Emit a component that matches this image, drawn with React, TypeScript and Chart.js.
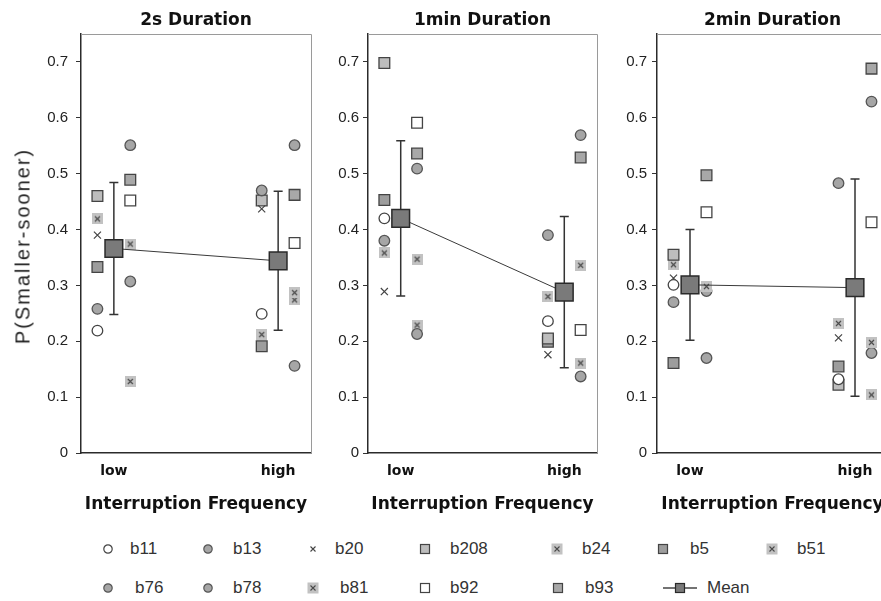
import React, { useEffect, useRef } from 'react';
import { Chart, registerables } from 'chart.js';

Chart.register(...registerables);

// ---------- data ----------
const panelTitles = ['2s Duration', '1min Duration', '2min Duration'];
const xLabels = ['low', 'high'];
const xAxisTitle = 'Interruption Frequency';
const yAxisTitle = 'P(Smaller-sooner)';

// values per series: [2s low, 2s high, 1min low, 1min high, 2min low, 2min high]
const b11 = [0.219, 0.249, 0.42, 0.236, 0.301, 0.132];
const b13 = [0.258, 0.47, 0.38, 0.39, 0.27, 0.483];
const b20 = [0.39, 0.437, 0.289, 0.176, 0.313, 0.206];
const b208 = [0.46, 0.452, 0.698, 0.205, 0.355, 0.122];
const b24 = [0.419, 0.212, 0.358, 0.28, 0.337, 0.232];
const b5 = [0.333, 0.191, 0.453, 0.199, 0.161, 0.155];
const b51 = [0.374, 0.287, 0.347, 0.336, 0.298, 0.198];
const b76 = [0.551, 0.551, 0.509, 0.569, 0.29, 0.629];
const b78 = [0.307, 0.156, 0.213, 0.137, 0.17, 0.179];
const b81 = [0.128, 0.274, 0.229, 0.161, 0.295, 0.104];
const b92 = [0.452, 0.376, 0.591, 0.22, 0.431, 0.413];
const b93 = [0.489, 0.462, 0.536, 0.529, 0.497, 0.688];

const meanValues = [0.366, 0.344, 0.42, 0.288, 0.301, 0.296];
const sdValues = [0.118, 0.1245, 0.139, 0.1355, 0.099, 0.1946];

const seriesNames = ['b11', 'b13', 'b20', 'b208', 'b24', 'b5', 'b51', 'b76', 'b78', 'b81', 'b92', 'b93'];
const seriesValues: Record<string, number[]> = { b11, b13, b20, b208, b24, b5, b51, b76, b78, b81, b92, b93 };
const leftGroup = ['b11', 'b13', 'b20', 'b208', 'b24', 'b5'];

// ---------- styles ----------
type Marker = { kind: string; fill: string; stroke: string };
const markerStyles: Record<string, Marker> = {
  b11: { kind: 'circle', fill: '#ffffff', stroke: '#444444' },
  b13: { kind: 'circle', fill: '#a6a6a6', stroke: '#555555' },
  b20: { kind: 'crossRot', fill: '#444444', stroke: '#444444' },
  b208: { kind: 'rect', fill: '#bdbdbd', stroke: '#444444' },
  b24: { kind: 'xgray', fill: '#c2c2c2', stroke: '#4a4a4a' },
  b5: { kind: 'rect', fill: '#9d9d9d', stroke: '#444444' },
  b51: { kind: 'xgray', fill: '#c2c2c2', stroke: '#4a4a4a' },
  b76: { kind: 'circle', fill: '#a6a6a6', stroke: '#555555' },
  b78: { kind: 'circle', fill: '#a6a6a6', stroke: '#555555' },
  b81: { kind: 'xgray', fill: '#c2c2c2', stroke: '#4a4a4a' },
  b92: { kind: 'rect', fill: '#ffffff', stroke: '#444444' },
  b93: { kind: 'rect', fill: '#a8a8a8', stroke: '#444444' },
};

const panelLayout = [
  { left: 0, width: 320, yWidth: 81, rightPad: 9, tickPad: 8 },
  { left: 320, width: 290, yWidth: 48, rightPad: 13, tickPad: 4 },
  { left: 610, width: 292, yWidth: 47, rightPad: 14, tickPad: 5 },
];
const canvasHeight = 525;

const legendRows = [549, 588];
const legendLayout = [
  { name: 'b11', mx: 108, tx: 130, row: 0 },
  { name: 'b13', mx: 208, tx: 233, row: 0 },
  { name: 'b20', mx: 313, tx: 335, row: 0 },
  { name: 'b208', mx: 425, tx: 450, row: 0 },
  { name: 'b24', mx: 557, tx: 582, row: 0 },
  { name: 'b5', mx: 663, tx: 690, row: 0 },
  { name: 'b51', mx: 772, tx: 797, row: 0 },
  { name: 'b76', mx: 108, tx: 135, row: 1 },
  { name: 'b78', mx: 208, tx: 233, row: 1 },
  { name: 'b81', mx: 313, tx: 340, row: 1 },
  { name: 'b92', mx: 425, tx: 450, row: 1 },
  { name: 'b93', mx: 558, tx: 585, row: 1 },
];

function makeXGray(): HTMLCanvasElement {
  const c = document.createElement('canvas');
  c.width = 11;
  c.height = 11;
  const g = c.getContext('2d')!;
  g.fillStyle = '#c2c2c2';
  g.fillRect(0, 0, 11, 11);
  g.strokeStyle = '#4a4a4a';
  g.lineWidth = 1.2;
  g.beginPath();
  g.moveTo(3, 3);
  g.lineTo(8, 8);
  g.moveTo(8, 3);
  g.lineTo(3, 8);
  g.stroke();
  return c;
}

const errorBarPlugin = {
  id: 'errorBars',
  beforeDatasetsDraw(chart: any, _args: any, opts: any) {
    const { ctx, scales } = chart;
    const x = scales.x;
    const y = scales.y;
    ctx.save();
    ctx.strokeStyle = opts.color || '#333';
    ctx.lineWidth = 1.5;
    (opts.means || []).forEach((m: number, i: number) => {
      const px = x.getPixelForValue(i);
      const top = y.getPixelForValue(m + opts.sds[i]);
      const bot = y.getPixelForValue(m - opts.sds[i]);
      ctx.beginPath();
      ctx.moveTo(px, top);
      ctx.lineTo(px, bot);
      ctx.moveTo(px - 4.5, top);
      ctx.lineTo(px + 4.5, top);
      ctx.moveTo(px - 4.5, bot);
      ctx.lineTo(px + 4.5, bot);
      ctx.stroke();
    });
    ctx.restore();
  },
};

const framePlugin = {
  id: 'panelFrame',
  beforeDatasetsDraw(chart: any) {
    const { ctx, chartArea } = chart;
    const { left, right, top, bottom } = chartArea;
    ctx.save();
    ctx.strokeStyle = '#9a9a9a';
    ctx.lineWidth = 1;
    ctx.beginPath();
    ctx.moveTo(left, top + 0.5);
    ctx.lineTo(right + 0.5, top + 0.5);
    ctx.lineTo(right + 0.5, bottom);
    ctx.stroke();
    ctx.restore();
  },
};

function Panel({ index }: { index: number }) {
  const ref = useRef<HTMLCanvasElement | null>(null);
  const lay = panelLayout[index];
  useEffect(() => {
    if (!ref.current) return;
    const xgray = makeXGray();
    const p = index;
    const datasets: any[] = [
      {
        label: 'Mean',
        data: [
          { x: 0, y: meanValues[2 * p] },
          { x: 1, y: meanValues[2 * p + 1] },
        ],
        showLine: true,
        borderColor: '#3a3a3a',
        borderWidth: 1,
        pointStyle: 'rect',
        pointRadius: 12.5,
        pointHoverRadius: 12.5,
        pointBackgroundColor: '#7a7a7a',
        pointBorderColor: '#2a2a2a',
        pointBorderWidth: 1.5,
      },
    ];
    seriesNames.forEach((name) => {
      const vals = seriesValues[name];
      const off = leftGroup.includes(name) ? -0.1 : 0.1;
      const st = markerStyles[name];
      const radius = st.kind === 'circle' ? 5.3 : st.kind === 'rect' ? 7.6 : 5;
      datasets.push({
        label: name,
        data: [
          { x: off, y: vals[2 * p] },
          { x: 1 + off, y: vals[2 * p + 1] },
        ],
        showLine: false,
        pointStyle: st.kind === 'xgray' ? xgray : st.kind,
        pointRadius: radius,
        pointHoverRadius: radius,
        pointBackgroundColor: st.fill,
        pointBorderColor: st.stroke,
        pointBorderWidth: st.kind === 'crossRot' ? 1.2 : 1.3,
      });
    });

    const boldFont = (size: number) => ({ family: '"DejaVu Sans", sans-serif', size, weight: 'bold' as const });

    const chart = new Chart(ref.current, {
      type: 'scatter',
      data: { datasets },
      plugins: [framePlugin, errorBarPlugin],
      options: {
        responsive: false,
        animation: false,
        events: [],
        layout: { autoPadding: false, padding: { left: 0, right: lay.rightPad, top: 0, bottom: 0 } },
        plugins: {
          legend: { display: false },
          tooltip: { enabled: false },
          title: {
            display: true,
            text: panelTitles[index],
            fullSize: false,
            color: '#111',
            font: boldFont(17),
            padding: { top: 10, bottom: 3.6 },
          },
          errorBars: {
            means: [meanValues[2 * p], meanValues[2 * p + 1]],
            sds: [sdValues[2 * p], sdValues[2 * p + 1]],
            color: '#333',
          },
        } as any,
        scales: {
          x: {
            type: 'linear',
            min: -0.2,
            max: 1.2,
            afterBuildTicks: (s: any) => {
              s.ticks = [{ value: 0 }, { value: 1 }];
            },
            afterFit: (s: any) => {
              s.height = canvasHeight - 453;
              s.paddingLeft = 0;
              s.paddingRight = 0;
            },
            grid: { display: true, drawOnChartArea: false, drawTicks: false },
            border: { color: '#2b2b2b', width: 1.5 },
            ticks: {
              padding: 10,
              color: '#111',
              font: boldFont(14),
              callback: (_v: any, i: number) => xLabels[i],
            },
            title: {
              display: true,
              text: xAxisTitle,
              color: '#111',
              font: boldFont(17),
              padding: { top: 0, bottom: 10 },
            },
          },
          y: {
            min: 0,
            max: 0.75,
            afterFit: (s: any) => {
              s.width = lay.yWidth;
            },
            ticks: {
              stepSize: 0.1,
              includeBounds: false,
              padding: lay.tickPad,
              color: '#222',
              font: { family: '"Liberation Sans", Arial, sans-serif', size: 15 },
            },
            grid: { display: true, drawOnChartArea: false, drawTicks: true, tickLength: 5, color: '#333' },
            border: { color: '#2b2b2b', width: 1.5 },
          },
        } as any,
      },
    });
    return () => chart.destroy();
  }, [index]);
  return (
    <canvas
      ref={ref}
      width={lay.width}
      height={canvasHeight}
      style={{ position: 'absolute', left: lay.left, top: 0, width: lay.width, height: canvasHeight }}
    />
  );
}

function LegendMarker({ name }: { name: string }) {
  const st = markerStyles[name];
  let shape: any = null;
  if (st.kind === 'circle') {
    shape = <circle cx={7} cy={7} r={4.2} fill={st.fill} stroke={st.stroke} strokeWidth={1.2} />;
  } else if (st.kind === 'rect') {
    shape = <rect x={2.5} y={2.5} width={9} height={9} fill={st.fill} stroke={st.stroke} strokeWidth={1.2} />;
  } else if (st.kind === 'crossRot') {
    shape = (
      <path d="M4.5 4.5 L9.5 9.5 M9.5 4.5 L4.5 9.5" stroke={st.stroke} strokeWidth={1.1} fill="none" />
    );
  } else {
    shape = (
      <g>
        <rect x={1.5} y={1.5} width={11} height={11} fill={st.fill} />
        <path d="M4.5 4.5 L9.5 9.5 M9.5 4.5 L4.5 9.5" stroke={st.stroke} strokeWidth={1.1} fill="none" />
      </g>
    );
  }
  return (
    <svg width={14} height={14} style={{ display: 'block' }}>
      {shape}
    </svg>
  );
}

export default function App() {
  const textStyle = {
    position: 'absolute' as const,
    font: '17px "Liberation Sans", Arial, sans-serif',
    color: '#333',
    lineHeight: '20px',
    whiteSpace: 'nowrap' as const,
  };
  return (
    <div
      style={{
        position: 'fixed',
        left: 0,
        top: 0,
        width: 881,
        height: 601,
        overflow: 'hidden',
        background: '#ffffff',
      }}
    >
      {panelTitles.map((_, i) => (
        <Panel key={i} index={i} />
      ))}
      <div
        style={{
          position: 'absolute',
          left: 23,
          top: 246,
          transform: 'translate(-50%, -50%) rotate(-90deg)',
          font: '20px "Liberation Sans", Arial, sans-serif',
          letterSpacing: '2px',
          color: '#222',
          whiteSpace: 'nowrap',
        }}
      >
        {yAxisTitle}
      </div>
      {legendLayout.map((it) => (
        <React.Fragment key={it.name}>
          <div style={{ position: 'absolute', left: it.mx - 7, top: legendRows[it.row] - 7 }}>
            <LegendMarker name={it.name} />
          </div>
          <div style={{ ...textStyle, left: it.tx, top: legendRows[it.row] - 10 }}>{it.name}</div>
        </React.Fragment>
      ))}
      <svg width={36} height={14} style={{ position: 'absolute', left: 662, top: legendRows[1] - 7 }}>
        <line x1={1} y1={7} x2={35} y2={7} stroke="#444" strokeWidth={1.5} />
        <rect x={13.5} y={2.5} width={9} height={9} fill="#7a7a7a" stroke="#2a2a2a" strokeWidth={1.2} />
      </svg>
      <div style={{ ...textStyle, left: 707, top: legendRows[1] - 10 }}>Mean</div>
    </div>
  );
}
